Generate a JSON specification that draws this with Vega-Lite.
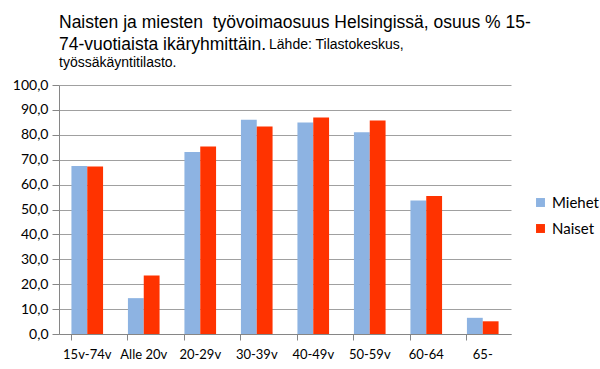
{
  "$schema": "https://vega.github.io/schema/vega-lite/v6.json",
  "width": 452,
  "height": 249,
  "padding": {"left": 12, "top": 13, "right": 5, "bottom": 5},
  "background": "white",
  "config": {
    "locale": {"number": {"decimal": ",", "thousands": "\u00a0", "grouping": [3], "currency": ["", " €"]}},
    "view": {"stroke": null},
    "font": "Lato"
  },
  "title": {
    "text": ["Naisten ja miesten \u00a0työvoimaosuus Helsingissä, osuus % 15-", "74-vuotiaista ikäryhmittäin."],
    "subtitle": ["\u200b\u00a0\u00a0\u00a0\u00a0\u00a0\u00a0\u00a0\u00a0\u00a0\u00a0\u00a0\u00a0\u00a0\u00a0\u00a0\u00a0\u00a0\u00a0\u00a0\u00a0\u00a0\u00a0\u00a0\u00a0\u00a0\u00a0\u00a0\u00a0\u00a0\u00a0\u00a0\u00a0\u00a0\u00a0\u00a0\u00a0\u00a0\u00a0\u00a0\u00a0\u00a0\u00a0\u00a0\u00a0\u00a0\u00a0\u00a0\u00a0\u00a0\u00a0\u00a0\u00a0\u00a0\u00a0Lähde: Tilastokeskus,", "työssäkäyntitilasto."],
    "anchor": "start",
    "frame": "group",
    "font": "Liberation Sans",
    "fontSize": 17.5,
    "fontWeight": "normal",
    "color": "#000000",
    "lineHeight": 22,
    "subtitleFont": "Liberation Sans",
    "subtitleFontSize": 14,
    "subtitleColor": "#000000",
    "subtitleLineHeight": 18,
    "subtitlePadding": -15,
    "offset": 8
  },
  "data": {
    "values": [
      {"ika": "15v-74v", "sukupuoli": "Miehet", "osuus": 67.5},
      {"ika": "15v-74v", "sukupuoli": "Naiset", "osuus": 67.3},
      {"ika": "Alle 20v", "sukupuoli": "Miehet", "osuus": 14.4},
      {"ika": "Alle 20v", "sukupuoli": "Naiset", "osuus": 23.5},
      {"ika": "20-29v", "sukupuoli": "Miehet", "osuus": 73.1},
      {"ika": "20-29v", "sukupuoli": "Naiset", "osuus": 75.3},
      {"ika": "30-39v", "sukupuoli": "Miehet", "osuus": 86.0},
      {"ika": "30-39v", "sukupuoli": "Naiset", "osuus": 83.3},
      {"ika": "40-49v", "sukupuoli": "Miehet", "osuus": 84.9},
      {"ika": "40-49v", "sukupuoli": "Naiset", "osuus": 86.9},
      {"ika": "50-59v", "sukupuoli": "Miehet", "osuus": 81.0},
      {"ika": "50-59v", "sukupuoli": "Naiset", "osuus": 85.7},
      {"ika": "60-64", "sukupuoli": "Miehet", "osuus": 53.6},
      {"ika": "60-64", "sukupuoli": "Naiset", "osuus": 55.4},
      {"ika": "65-", "sukupuoli": "Miehet", "osuus": 6.5},
      {"ika": "65-", "sukupuoli": "Naiset", "osuus": 5.1}
    ]
  },
  "mark": {"type": "bar"},
  "encoding": {
    "x": {
      "field": "ika",
      "type": "nominal",
      "sort": null,
      "title": null,
      "scale": {"paddingInner": 0.44, "paddingOuter": 0.22},
      "axis": {
        "labelAngle": 0,
        "labelFontSize": 13,
        "labelColor": "#000000",
        "labelPadding": 8,
        "domainColor": "#868686",
        "tickColor": "#868686",
        "bandPosition": 0,
        "tickSize": 6,
        "grid": false
      }
    },
    "xOffset": {"field": "sukupuoli", "sort": ["Miehet", "Naiset"]},
    "y": {
      "field": "osuus",
      "type": "quantitative",
      "title": null,
      "scale": {"domain": [0, 100], "nice": false},
      "axis": {
        "values": [0, 10, 20, 30, 40, 50, 60, 70, 80, 90, 100],
        "format": ".1f",
        "labelFontSize": 14,
        "labelColor": "#000000",
        "labelPadding": 4,
        "tickSize": 7,
        "tickColor": "#868686",
        "domainColor": "#868686",
        "gridColor": "#A0A0A0",
        "gridWidth": 1
      }
    },
    "color": {
      "field": "sukupuoli",
      "type": "nominal",
      "title": null,
      "scale": {"domain": ["Miehet", "Naiset"], "range": ["#8DB3E2", "#FF3300"]},
      "legend": {
        "orient": "none",
        "legendX": 474,
        "legendY": 110,
        "symbolType": "square",
        "symbolSize": 80,
        "symbolStrokeWidth": 0,
        "labelFontSize": 15,
        "labelColor": "#000000",
        "rowPadding": 10
      }
    }
  }
}
